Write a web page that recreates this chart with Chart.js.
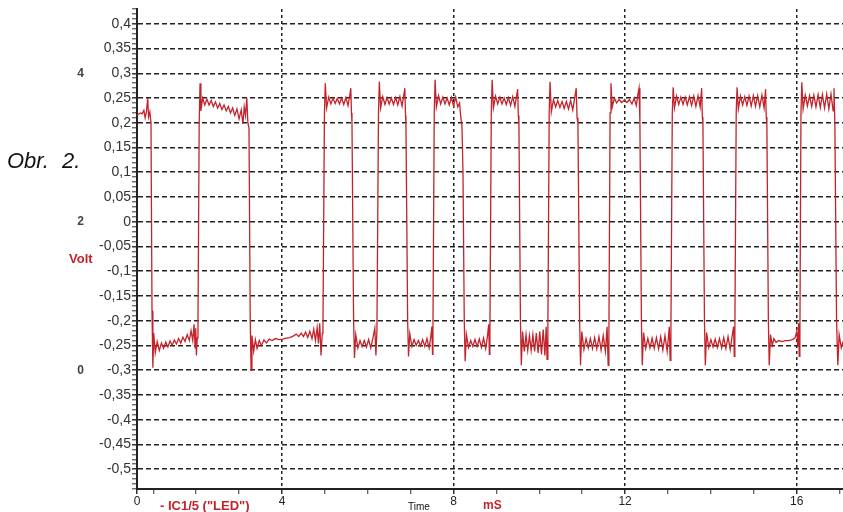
<!DOCTYPE html>
<html><head><meta charset="utf-8">
<script src="https://cdn.jsdelivr.net/npm/chart.js@4.4.1/dist/chart.umd.min.js"></script>
<style>html,body{margin:0;padding:0;background:#fff;}canvas{display:block;}</style>
</head><body>
<canvas id="c" width="843" height="512"></canvas>
<script>
// ---- data (time in ms, value in V) ----
const trace = [
[0.62,0.215],[0.66,0.218],[0.70,0.22],[0.74,0.218],[0.78,0.225],[0.81,0.21],[0.84,0.222],[0.87,0.25],[0.89,0.212],[0.92,0.222],[0.946,0.2],
[0.97,-0.18],[0.99,-0.295],
[1.01,-0.225],[1.045,-0.265],[1.09,-0.242],[1.14,-0.26],[1.19,-0.245],[1.24,-0.256],[1.29,-0.243],[1.34,-0.253],[1.39,-0.241],[1.44,-0.25],[1.49,-0.239],[1.54,-0.247],[1.59,-0.236],[1.64,-0.245],[1.69,-0.233],[1.74,-0.242],[1.79,-0.228],[1.84,-0.24],[1.88,-0.22],[1.92,-0.24],[1.95,-0.207],[1.975,-0.255],[1.99,-0.215],[2.005,-0.27],[2.025,-0.235],[2.042,-0.2],
[2.07,0.2],
[2.09,0.28],[2.11,0.224],[2.15,0.25],[2.20,0.236],[2.25,0.248],[2.30,0.236],[2.35,0.245],[2.40,0.233],[2.45,0.242],[2.50,0.23],[2.55,0.239],[2.60,0.227],[2.65,0.236],[2.70,0.224],[2.75,0.233],[2.80,0.22],[2.85,0.23],[2.90,0.215],[2.95,0.228],[3.00,0.208],[3.05,0.226],[3.09,0.198],[3.12,0.232],[3.15,0.215],[3.18,0.25],[3.205,0.2],[3.231,0.19],
[3.26,-0.2],
[3.28,-0.3],[3.30,-0.23],[3.34,-0.262],[3.38,-0.238],[3.42,-0.256],[3.47,-0.24],[3.52,-0.25],[3.58,-0.239],[3.64,-0.245],[3.70,-0.237],[3.77,-0.24],[3.85,-0.236],[3.93,-0.238],[4.02,-0.237],[4.10,-0.235],[4.18,-0.234],[4.26,-0.231],[4.33,-0.227],[4.39,-0.232],[4.45,-0.225],[4.50,-0.232],[4.55,-0.223],[4.60,-0.234],[4.65,-0.221],[4.70,-0.236],[4.74,-0.217],[4.78,-0.24],[4.82,-0.214],[4.85,-0.246],[4.88,-0.205],[4.91,-0.27],[4.94,-0.225],[4.956,-0.21],
[4.99,0.22],
[5.01,0.28],[5.04,0.23],[5.09,0.252],[5.14,0.238],[5.19,0.25],[5.24,0.239],[5.29,0.249],[5.34,0.238],[5.39,0.25],[5.44,0.237],[5.49,0.251],[5.54,0.235],[5.58,0.255],[5.605,0.27],[5.62,0.22],[5.632,0.2],
[5.67,-0.2],
[5.69,-0.275],[5.72,-0.228],[5.77,-0.255],[5.82,-0.24],[5.87,-0.252],[5.92,-0.24],[5.97,-0.253],[6.02,-0.238],[6.07,-0.255],[6.12,-0.235],[6.165,-0.215],[6.19,-0.27],[6.214,-0.22],
[6.25,0.22],
[6.27,0.283],[6.30,0.23],[6.35,0.253],[6.40,0.237],[6.45,0.251],[6.50,0.238],[6.55,0.25],[6.60,0.237],[6.65,0.251],[6.70,0.236],[6.75,0.253],[6.80,0.234],[6.84,0.256],[6.865,0.27],[6.88,0.215],[6.890,0.2],
[6.93,-0.2],
[6.95,-0.272],[6.98,-0.226],[7.03,-0.252],[7.08,-0.238],[7.13,-0.25],[7.18,-0.24],[7.23,-0.251],[7.28,-0.238],[7.33,-0.252],[7.38,-0.236],[7.43,-0.255],[7.47,-0.232],[7.495,-0.212],[7.51,-0.268],[7.520,-0.22],
[7.55,0.22],
[7.57,0.287],[7.60,0.232],[7.65,0.255],[7.70,0.238],[7.75,0.252],[7.80,0.238],[7.85,0.25],[7.90,0.236],[7.95,0.251],[8.00,0.234],[8.05,0.252],[8.10,0.232],[8.14,0.24],[8.17,0.21],[8.196,0.195],
[8.22,0.1],[8.25,-0.2],
[8.27,-0.282],[8.30,-0.228],[8.35,-0.254],[8.40,-0.24],[8.45,-0.252],[8.50,-0.238],[8.55,-0.252],[8.60,-0.237],[8.65,-0.254],[8.70,-0.235],[8.75,-0.256],[8.79,-0.232],[8.82,-0.207],[8.835,-0.268],[8.848,-0.22],
[8.88,0.22],
[8.90,0.287],[8.93,0.23],[8.98,0.254],[9.03,0.238],[9.08,0.252],[9.13,0.238],[9.18,0.25],[9.23,0.237],[9.28,0.251],[9.33,0.235],[9.38,0.253],[9.43,0.233],[9.47,0.255],[9.495,0.268],[9.51,0.215],[9.524,0.2],
[9.56,-0.2],
[9.58,-0.29],[9.61,-0.222],[9.65,-0.262],[9.69,-0.228],[9.73,-0.26],[9.77,-0.23],[9.81,-0.26],[9.85,-0.228],[9.89,-0.262],[9.93,-0.225],[9.97,-0.265],[10.01,-0.222],[10.05,-0.268],[10.09,-0.218],[10.13,-0.27],[10.16,-0.212],[10.18,-0.278],[10.200,-0.21],
[10.23,0.22],
[10.25,0.283],[10.28,0.222],[10.33,0.247],[10.38,0.232],[10.43,0.245],[10.48,0.231],[10.53,0.243],[10.58,0.229],[10.63,0.243],[10.68,0.228],[10.73,0.245],[10.78,0.226],[10.82,0.248],[10.86,0.27],[10.88,0.21],[10.900,0.2],
[10.94,-0.2],
[10.96,-0.29],[10.99,-0.222],[11.04,-0.258],[11.09,-0.236],[11.14,-0.255],[11.19,-0.236],[11.24,-0.256],[11.29,-0.234],[11.34,-0.257],[11.39,-0.232],[11.44,-0.259],[11.49,-0.23],[11.54,-0.262],[11.58,-0.212],[11.605,-0.29],[11.622,-0.23],
[11.65,0.22],
[11.67,0.28],[11.70,0.232],[11.75,0.25],[11.80,0.24],[11.86,0.247],[11.92,0.241],[11.98,0.246],[12.04,0.241],[12.10,0.247],[12.16,0.238],[12.21,0.25],[12.26,0.235],[12.30,0.258],[12.325,0.27],[12.345,0.2],
[12.38,-0.2],
[12.40,-0.29],[12.43,-0.224],[12.48,-0.256],[12.53,-0.236],[12.58,-0.255],[12.63,-0.235],[12.68,-0.256],[12.73,-0.234],[12.78,-0.257],[12.83,-0.232],[12.88,-0.259],[12.93,-0.23],[12.98,-0.262],[13.03,-0.212],[13.05,-0.28],[13.068,-0.22],
[13.10,0.22],
[13.12,0.272],[13.15,0.23],[13.20,0.254],[13.25,0.237],[13.30,0.252],[13.35,0.237],[13.40,0.252],[13.45,0.236],[13.50,0.253],[13.55,0.235],[13.60,0.254],[13.65,0.233],[13.70,0.255],[13.75,0.232],[13.785,0.27],[13.80,0.212],[13.814,0.2],
[13.85,-0.2],
[13.87,-0.29],[13.90,-0.224],[13.95,-0.254],[14.00,-0.238],[14.05,-0.253],[14.10,-0.237],[14.15,-0.254],[14.20,-0.236],[14.25,-0.255],[14.30,-0.234],[14.35,-0.256],[14.40,-0.232],[14.45,-0.258],[14.50,-0.228],[14.53,-0.212],[14.545,-0.272],[14.559,-0.22],
[14.59,0.22],
[14.61,0.272],[14.64,0.228],[14.69,0.254],[14.74,0.236],[14.79,0.253],[14.84,0.235],[14.89,0.254],[14.94,0.234],[14.99,0.255],[15.04,0.233],[15.09,0.255],[15.14,0.232],[15.19,0.256],[15.24,0.23],[15.275,0.268],[15.29,0.212],[15.305,0.2],
[15.34,-0.2],
[15.36,-0.29],[15.39,-0.228],[15.43,-0.25],[15.47,-0.236],[15.52,-0.244],[15.58,-0.24],[15.66,-0.242],[15.74,-0.24],[15.82,-0.24],[15.90,-0.238],[15.96,-0.235],[16.00,-0.222],[16.025,-0.25],[16.045,-0.205],[16.06,-0.272],[16.075,-0.23],
[16.10,0.22],
[16.12,0.282],[16.15,0.228],[16.20,0.256],[16.25,0.234],[16.30,0.255],[16.35,0.233],[16.40,0.256],[16.45,0.232],[16.50,0.257],[16.55,0.231],[16.60,0.257],[16.65,0.23],[16.70,0.258],[16.75,0.228],[16.80,0.258],[16.85,0.224],[16.87,0.27],[16.890,0.2],
[16.93,-0.2],
[16.96,-0.29],[16.99,-0.228],[17.04,-0.255],[17.08,-0.242]
];
const timeMajorTicks = [4, 8, 12, 16];
const timeMinorTicks = [1, 2, 3, 5, 6, 7, 9, 10, 11, 13, 14, 15, 17];
const timeStartLabel = '0';
const voltMajorTicks = [0.4, 0.35, 0.3, 0.25, 0.2, 0.15, 0.1, 0.05, 0, -0.05, -0.1, -0.15, -0.2, -0.25, -0.3, -0.35, -0.4, -0.45, -0.5];
const leftScaleTicks = [0, 2, 4];
const figureLabel = ['Obr.', '2.'];
const yTitle = 'Volt';
const seriesName = '- IC1/5 ("LED")';
const xTitle = 'Time';
const xUnit = 'mS';

const X_MIN = 0.62, X_MAX = 17.08, Y_MIN = -0.54, Y_MAX = 0.43;
const RED = '#c4232b';
const FONT = '"Liberation Sans", Arial, sans-serif';

const isMajorV = v => voltMajorTicks.some(m => Math.abs(m - v) < 1e-6);
const isMajorT = v => timeMajorTicks.includes(v);
const fmtV = v => { let r = Math.round(v * 100) / 100; if (Object.is(r, -0)) r = 0; return String(r).replace('.', ','); };
const noPad = s => { s.paddingTop = 0; s.paddingBottom = 0; s.paddingLeft = 0; s.paddingRight = 0; };

const textPlugin = {
  id: 'texts',
  beforeDraw(chart) {
    const c = chart.ctx; c.save(); c.fillStyle = '#fff'; c.fillRect(0, 0, chart.width, chart.height); c.restore();
  },
  afterDraw(chart) {
    const c = chart.ctx;
    c.save();
    c.textBaseline = 'alphabetic';
    c.fillStyle = '#111';
    c.font = 'italic 22px ' + FONT;
    c.fillText(figureLabel[0], 7, 168);
    c.fillText(figureLabel[1], 62, 168);
    c.textBaseline = 'middle';
    c.fillStyle = RED;
    c.font = 'bold 13px ' + FONT;
    c.fillText(yTitle, 69, 259);
    c.fillText(seriesName, 160, 506);
    c.fillStyle = '#111';
    c.font = '10px ' + FONT;
    c.fillText(xTitle, 408, 507);
    c.fillStyle = RED;
    c.font = 'bold 12px ' + FONT;
    c.fillText(xUnit, 483, 506);
    c.restore();
  }
};

new Chart(document.getElementById('c'), {
  type: 'line',
  data: { datasets: [{
    data: trace.map(p => ({ x: p[0], y: p[1] })),
    borderColor: RED, borderWidth: 1.3, pointRadius: 0, tension: 0, fill: false
  }] },
  plugins: [textPlugin],
  options: {
    responsive: false, animation: false,
    layout: { padding: { top: 9, right: 0, left: 0, bottom: 0 } },
    plugins: { legend: { display: false }, tooltip: { enabled: false } },
    scales: {
      x: {
        type: 'linear', min: X_MIN, max: X_MAX,
        afterBuildTicks: s => { s.ticks = [X_MIN].concat(timeMajorTicks, timeMinorTicks).sort((a, b) => a - b).map(v => ({ value: v })); },
        afterFit: s => { s.height = 23; noPad(s); },
        ticks: {
          autoSkip: false, maxRotation: 0, padding: 0, color: '#222',
          font: { family: FONT, size: 12 },
          callback: v => v === X_MIN ? timeStartLabel : (isMajorT(v) ? String(v) : '')
        },
        grid: {
          color: ctx => (ctx.tick && isMajorT(ctx.tick.value)) ? '#222' : 'rgba(0,0,0,0)',
          lineWidth: 1.5, tickLength: 5, tickColor: '#333',
          tickWidth: ctx => (ctx.tick && (isMajorT(ctx.tick.value) || ctx.tick.value === X_MIN)) ? 1.5 : 1
        },
        border: { display: true, color: '#222', width: 2, dash: [3, 3] }
      },
      y: {
        type: 'linear', position: 'left', min: Y_MIN, max: Y_MAX, weight: 0,
        afterBuildTicks: s => {
          const t = [];
          for (let k = -54; k <= 43; k++) t.push({ value: k / 100 });
          s.ticks = t;
        },
        afterFit: s => { s.width = 40; noPad(s); },
        ticks: {
          autoSkip: false, padding: 1, color: '#333',
          font: { family: FONT, size: 14 },
          callback: v => isMajorV(v) ? fmtV(v) : ''
        },
        grid: {
          color: ctx => (ctx.tick && isMajorV(ctx.tick.value)) ? '#222' : 'rgba(0,0,0,0)',
          lineWidth: 1.6, tickLength: 5, tickColor: '#333',
          tickWidth: ctx => (ctx.tick && isMajorV(ctx.tick.value)) ? 1.5 : 1
        },
        border: { display: true, color: '#222', width: 2, dash: [5, 3] }
      },
      y2: {
        type: 'linear', position: 'left', weight: 1,
        min: (Y_MIN + 0.3) / 0.15, max: (Y_MAX + 0.3) / 0.15,
        afterBuildTicks: s => { s.ticks = leftScaleTicks.map(v => ({ value: v })); },
        afterFit: s => { s.width = 97; noPad(s); },
        ticks: { padding: 13, color: '#444', font: { family: FONT, size: 12, weight: 'bold' } },
        grid: { display: false, drawTicks: false },
        border: { display: false }
      }
    }
  }
});
</script>
</body></html>
